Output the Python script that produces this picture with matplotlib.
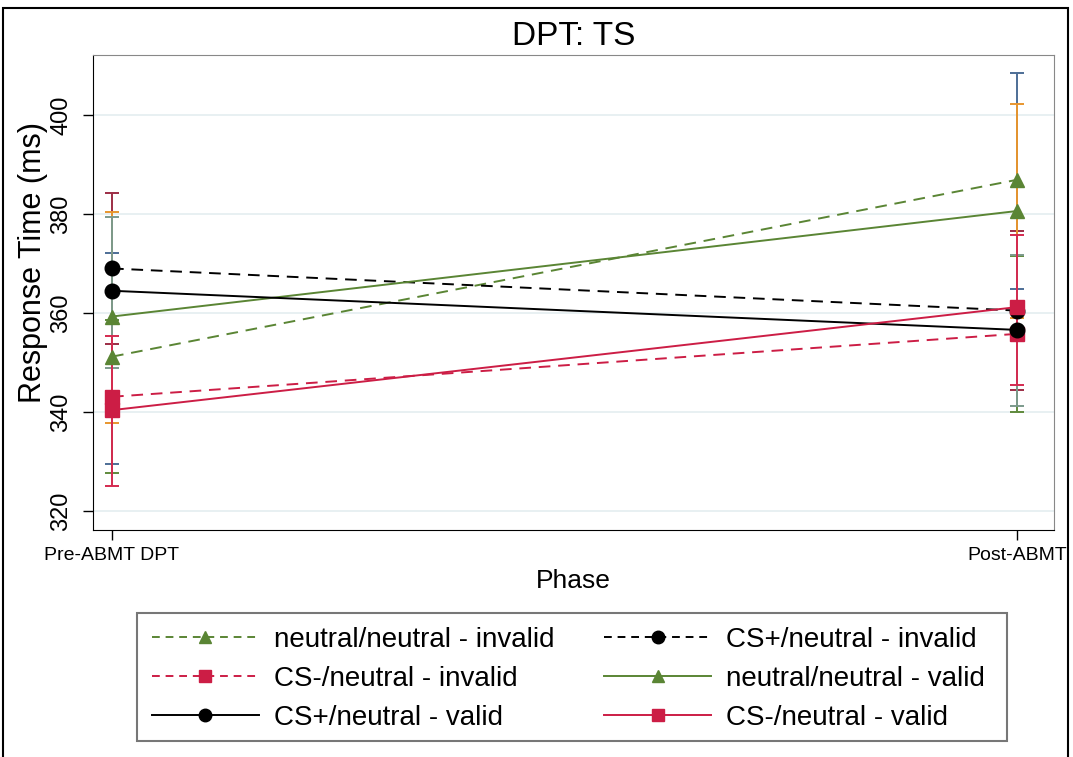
import numpy as np
import matplotlib.pyplot as plt
from matplotlib.lines import Line2D

fases = ["Pre-ABMT DPT", "Post-ABMT"]
series = ["neutral/neutral - invalid", "CS+/neutral - invalid", "CS-/neutral - invalid",
          "neutral/neutral - valid", "CS+/neutral - valid", "CS-/neutral - valid"]

# medias por fase
media_nn_inv = [351.2, 386.9]
media_csp_inv = [369.0, 360.5]
media_csm_inv = [343.1, 355.8]
media_nn_val = [359.3, 380.6]
media_csp_val = [364.5, 356.6]
media_csm_val = [340.4, 361.2]

# intervalos de confianza (bajo, alto)
ic_nn_inv = [(329.6, 372.2), (364.8, 408.4)]
ic_csp_inv = [(353.7, 384.2), (344.4, 376.6)]
ic_csm_inv = [(327.7, 358.5), (340.1, 371.5)]
ic_nn_val = [(337.8, 380.4), (359.0, 402.2)]
ic_csp_val = [(349.0, 379.3), (341.2, 371.7)]
ic_csm_val = [(325.0, 355.4), (345.5, 375.8)]

medias = [media_nn_inv, media_csp_inv, media_csm_inv, media_nn_val, media_csp_val, media_csm_val]
ics = [ic_nn_inv, ic_csp_inv, ic_csm_inv, ic_nn_val, ic_csp_val, ic_csm_val]

verde = "#5a8534"
rojo = "#cc1d45"
negro = "#000000"
colores = [verde, negro, rojo, verde, negro, rojo]
estilos = [(0, (6, 4)), (0, (6, 4)), (0, (6, 4)), "-", "-", "-"]
marcadores = ["^", "o", "s", "^", "o", "s"]
colores_ic = ["#4d6e96", "#9c2d45", "#5f8a3c", "#e8962e", "#7c9a8c", "#d42a50"]

plt.rcParams['font.family'] = ['Liberation Sans', 'DejaVu Sans']

fig = plt.figure(figsize=(10.73, 7.57), dpi=100)
ax = fig.add_axes([93 / 1073, 1 - 530 / 757, (1054 - 93) / 1073, (530 - 55) / 757])

x = np.arange(len(fases))

# barras de error primero
for ic, c in zip(ics, colores_ic):
    bajo = np.array([v[0] for v in ic])
    alto = np.array([v[1] for v in ic])
    centro = (bajo + alto) / 2
    ax.errorbar(x, centro, yerr=[centro - bajo, alto - centro], fmt="none",
                ecolor=c, elinewidth=1.4, capsize=5, capthick=1.4, zorder=2)

for m, c, ls, mk in zip(medias, colores, estilos, marcadores):
    ax.plot(x, m, color=c, linestyle=ls, marker=mk, markersize=10.5, lw=1.4, zorder=3)

ax.set_xlim(-0.021, 1.041)
ax.set_ylim(316.2, 412.1)
ax.set_yticks([320, 340, 360, 380, 400])
ax.set_yticklabels(["320", "340", "360", "380", "400"], rotation=90, va="center", fontsize=17)
ax.set_xticks(x)
ax.set_xticklabels(fases, fontsize=14)
ax.grid(axis="y", color="#e4eef0", lw=1.2, zorder=0)
ax.set_axisbelow(True)
ax.tick_params(axis="y", length=7, width=1, pad=8)
ax.tick_params(axis="x", length=7, width=1, pad=5)
for lado in ["top", "right"]:
    ax.spines[lado].set_color("#888888")
ax.set_ylabel("Response Time (ms)", fontsize=22)
ax.yaxis.set_label_coords(-0.047, 0.564)
ax.set_xlabel("Phase", fontsize=19, labelpad=4)
ax.set_title("DPT: TS", fontsize=24, pad=7)

handles = []
for m, c, ls, mk in zip(medias, colores, estilos, marcadores):
    handles.append(Line2D([], [], color=c, linestyle=ls, marker=mk, markersize=9, lw=1.4,
                          dashes=(4, 3) if ls != "-" else (None, None)))
orden = [0, 2, 4, 1, 3, 5]
fig.legend([handles[i] for i in orden], [series[i] for i in orden], ncol=2,
           loc="upper left", bbox_to_anchor=(152 / 1073, 1 - 627 / 757),
           fontsize=20, handlelength=3.85, handletextpad=0.54, frameon=False,
           borderpad=0, borderaxespad=0, labelspacing=0.47, columnspacing=1.8)

# caja de la leyenda
fig.add_artist(plt.Rectangle((137 / 1073, 1 - 741 / 757), 870 / 1073, 128 / 757,
                             transform=fig.transFigure, fill=False, edgecolor="#777777", lw=1.5))

# marco exterior
fig.add_artist(plt.Rectangle((3 / 1073, -0.01), 1065 / 1073, 1 - 8 / 757 + 0.01,
                             transform=fig.transFigure, fill=False, edgecolor="black", lw=1.5))

fig.savefig("out.png", dpi=100)
